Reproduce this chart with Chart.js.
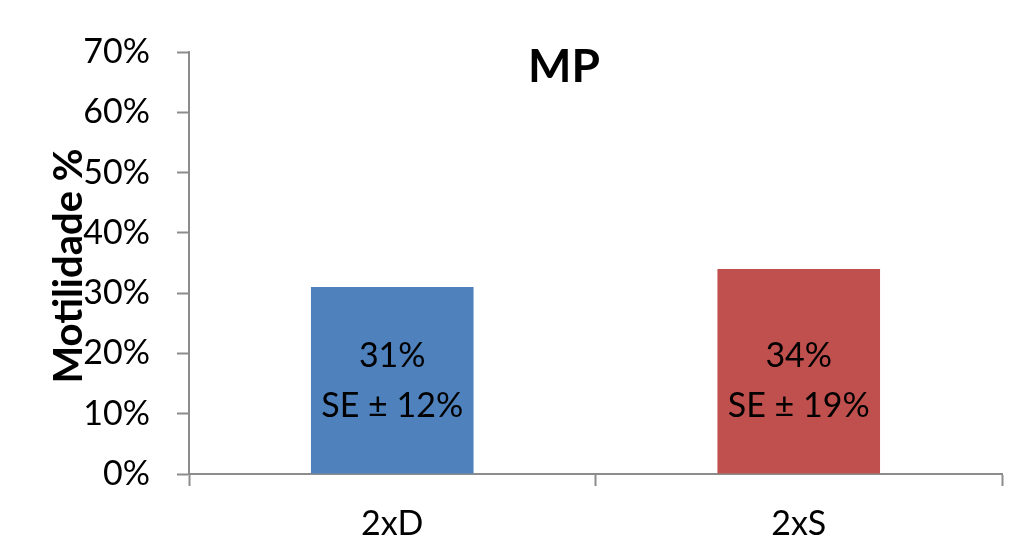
<!DOCTYPE html>
<html>
<head>
<meta charset="utf-8">
<script src="https://cdn.jsdelivr.net/npm/chart.js@4.4.0/dist/chart.umd.min.js"></script>
<style>
  html, body { margin: 0; padding: 0; background: #ffffff; }
  #wrap { width: 1030px; height: 558px; }
</style>
</head>
<body>
<div id="wrap"><canvas id="c" width="1030" height="558"></canvas></div>
<script>
// Mean motility per treatment, with its standard error
const categories = ['2xD', '2xS'];
const motility = [31, 34];
const standardError = [12, 19];
const barColors = ['#4F81BD', '#C0504D'];
const yTickValues = [0, 10, 20, 30, 40, 50, 60, 70];
const chartTitle = 'MP';
const yAxisTitle = 'Motilidade %';

const axisGrey = '#8C8C8C';
const baseFont = 'Lato';

// Draws the chart title, the rotated y-axis title and the in-bar value labels
const overlayText = {
  id: 'overlayText',
  afterDatasetsDraw(chart) {
    const { ctx, chartArea, scales } = chart;
    ctx.save();
    ctx.fillStyle = '#000000';
    ctx.textAlign = 'center';
    ctx.textBaseline = 'middle';

    // value + standard error inside each bar
    ctx.font = '34px ' + baseFont;
    const labelCentre = scales.y.getPixelForValue(15.5);
    chart.getDatasetMeta(0).data.forEach((bar, i) => {
      ctx.fillText(motility[i] + '%', bar.x, labelCentre - 25);
      ctx.fillText('SE \u00B1 ' + standardError[i] + '%', bar.x, labelCentre + 25);
    });

    // chart title
    ctx.textBaseline = 'alphabetic';
    ctx.font = 'bold 46px ' + baseFont;
    ctx.fillText(chartTitle, chartArea.left + 375, chartArea.top + 30);

    // y-axis title, rotated
    ctx.translate(82, (chartArea.top + chartArea.bottom) / 2 + 3);
    ctx.rotate(-Math.PI / 2);
    ctx.font = 'bold 40px ' + baseFont;
    ctx.fillText(yAxisTitle, 0, 0);
    ctx.restore();
  }
};

new Chart(document.getElementById('c'), {
  type: 'bar',
  data: {
    labels: categories,
    datasets: [{
      data: motility,
      backgroundColor: barColors,
      borderWidth: 0,
      barPercentage: 0.4,
      categoryPercentage: 1.0
    }]
  },
  options: {
    responsive: false,
    animation: false,
    layout: { padding: { left: 0, top: 52, right: 28, bottom: 0 } },
    plugins: {
      legend: { display: false },
      tooltip: { enabled: false },
      title: { display: false }
    },
    scales: {
      x: {
        afterFit(scale) { scale.height = 84; },
        border: { display: true, color: axisGrey, width: 2 },
        grid: {
          display: true,
          offset: true,
          drawOnChartArea: false,
          drawTicks: true,
          tickLength: 12,
          tickColor: axisGrey,
          tickWidth: 2
        },
        ticks: {
          color: '#000000',
          font: { family: baseFont, size: 34 },
          padding: 18
        }
      },
      y: {
        min: 0,
        max: 70,
        afterFit(scale) { scale.width = 189; },
        afterBuildTicks(scale) { scale.ticks = yTickValues.map(v => ({ value: v })); },
        border: { display: true, color: axisGrey, width: 2 },
        grid: {
          display: true,
          drawOnChartArea: false,
          drawTicks: true,
          tickLength: 12,
          tickColor: axisGrey,
          tickWidth: 2
        },
        ticks: {
          color: '#000000',
          font: { family: baseFont, size: 34 },
          padding: 27,
          callback: v => v + '%'
        }
      }
    }
  },
  plugins: [overlayText]
});
</script>
</body>
</html>
